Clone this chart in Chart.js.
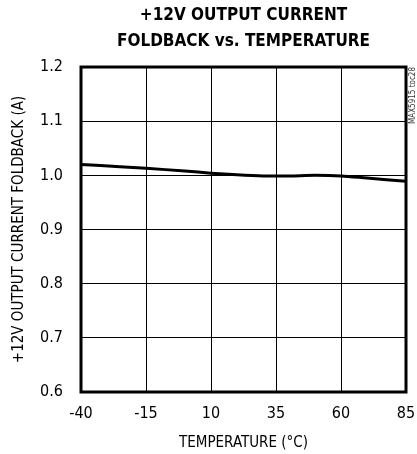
<!DOCTYPE html>
<html>
<head>
<meta charset="utf-8">
<script src="https://cdn.jsdelivr.net/npm/chart.js@4/dist/chart.umd.min.js"></script>
<style>
  body { margin: 0; background: #fff; }
  #c { display: block; }
</style>
</head>
<body>
<canvas id="c" width="417" height="454"></canvas>
<script>
// temperature (°C) and foldback current (A)
const temps = [-40, -25, -15, 0, 10, 20, 30, 40, 50, 60, 70, 85];
const foldback = [1.020, 1.016, 1.013, 1.008, 1.004, 1.001, 0.999, 0.999, 1.000, 0.999, 0.995, 0.989];
const xTicks = [-40, -15, 10, 35, 60, 85];
const yTicks = [0.6, 0.7, 0.8, 0.9, 1.0, 1.1, 1.2];

const FONT = "'DejaVu Sans Condensed', 'Liberation Sans Narrow', Roboto, sans-serif";

// thick frame around the plot + side label
const framePlugin = {
  id: 'frame',
  afterDraw(chart) {
    const a = chart.chartArea;
    const c = chart.ctx;
    c.save();
    c.strokeStyle = '#000';
    c.lineWidth = 3;
    c.strokeRect(a.left, a.top, a.right - a.left, a.bottom - a.top);
    c.translate(413, 67);
    c.rotate(-Math.PI / 2);
    c.font = '8px ' + FONT;
    c.fillStyle = '#333';
    c.textAlign = 'right';
    c.textBaseline = 'middle';
    c.fillText('MAX5915 toc28', 0, 0);
    c.restore();
  }
};

new Chart(document.getElementById('c'), {
  type: 'line',
  data: {
    datasets: [{
      data: temps.map((t, i) => ({ x: t, y: foldback[i] })),
      borderColor: '#000',
      borderWidth: 3,
      pointRadius: 0,
      tension: 0.3,
      fill: false
    }]
  },
  options: {
    responsive: false,
    animation: false,
    layout: { padding: { left: 2, right: 11, top: 0, bottom: 2 } },
    plugins: {
      legend: { display: false },
      tooltip: { enabled: false },
      title: {
        display: true,
        fullSize: false,
        text: ['+12V OUTPUT CURRENT', 'FOLDBACK vs. TEMPERATURE'],
        color: '#000',
        font: { family: FONT, size: 17, weight: 'bold', lineHeight: 1.53 },
        padding: { top: 3, bottom: 12 }
      }
    },
    scales: {
      x: {
        type: 'linear',
        min: -40,
        max: 85,
        afterBuildTicks(s) { s.ticks = xTicks.map(v => ({ value: v })); },
        afterFit(s) { s.height = 60; s.paddingLeft = 0; s.paddingRight = 0; },
        ticks: { color: '#000', font: { family: FONT, size: 16 }, padding: 12 },
        grid: { color: '#000', lineWidth: 1, drawTicks: false },
        border: { display: false },
        title: {
          display: true,
          text: 'TEMPERATURE (°C)',
          color: '#000',
          font: { family: FONT, size: 15 },
          padding: { top: 8, bottom: 0 }
        }
      },
      y: {
        min: 0.6,
        max: 1.2,
        afterBuildTicks(s) { s.ticks = yTicks.map(v => ({ value: v })); },
        afterFit(s) { s.width = 79; s.paddingTop = 0; s.paddingBottom = 0; },
        ticks: { color: '#000', font: { family: FONT, size: 16 }, padding: 18, callback: v => v.toFixed(1) },
        grid: { color: '#000', lineWidth: 1, drawTicks: false },
        border: { display: false },
        title: {
          display: true,
          text: '+12V OUTPUT CURRENT FOLDBACK (A)',
          color: '#000',
          font: { family: FONT, size: 15 },
          padding: { top: 8, bottom: 6 }
        }
      }
    }
  },
  plugins: [framePlugin]
});
</script>
</body>
</html>
